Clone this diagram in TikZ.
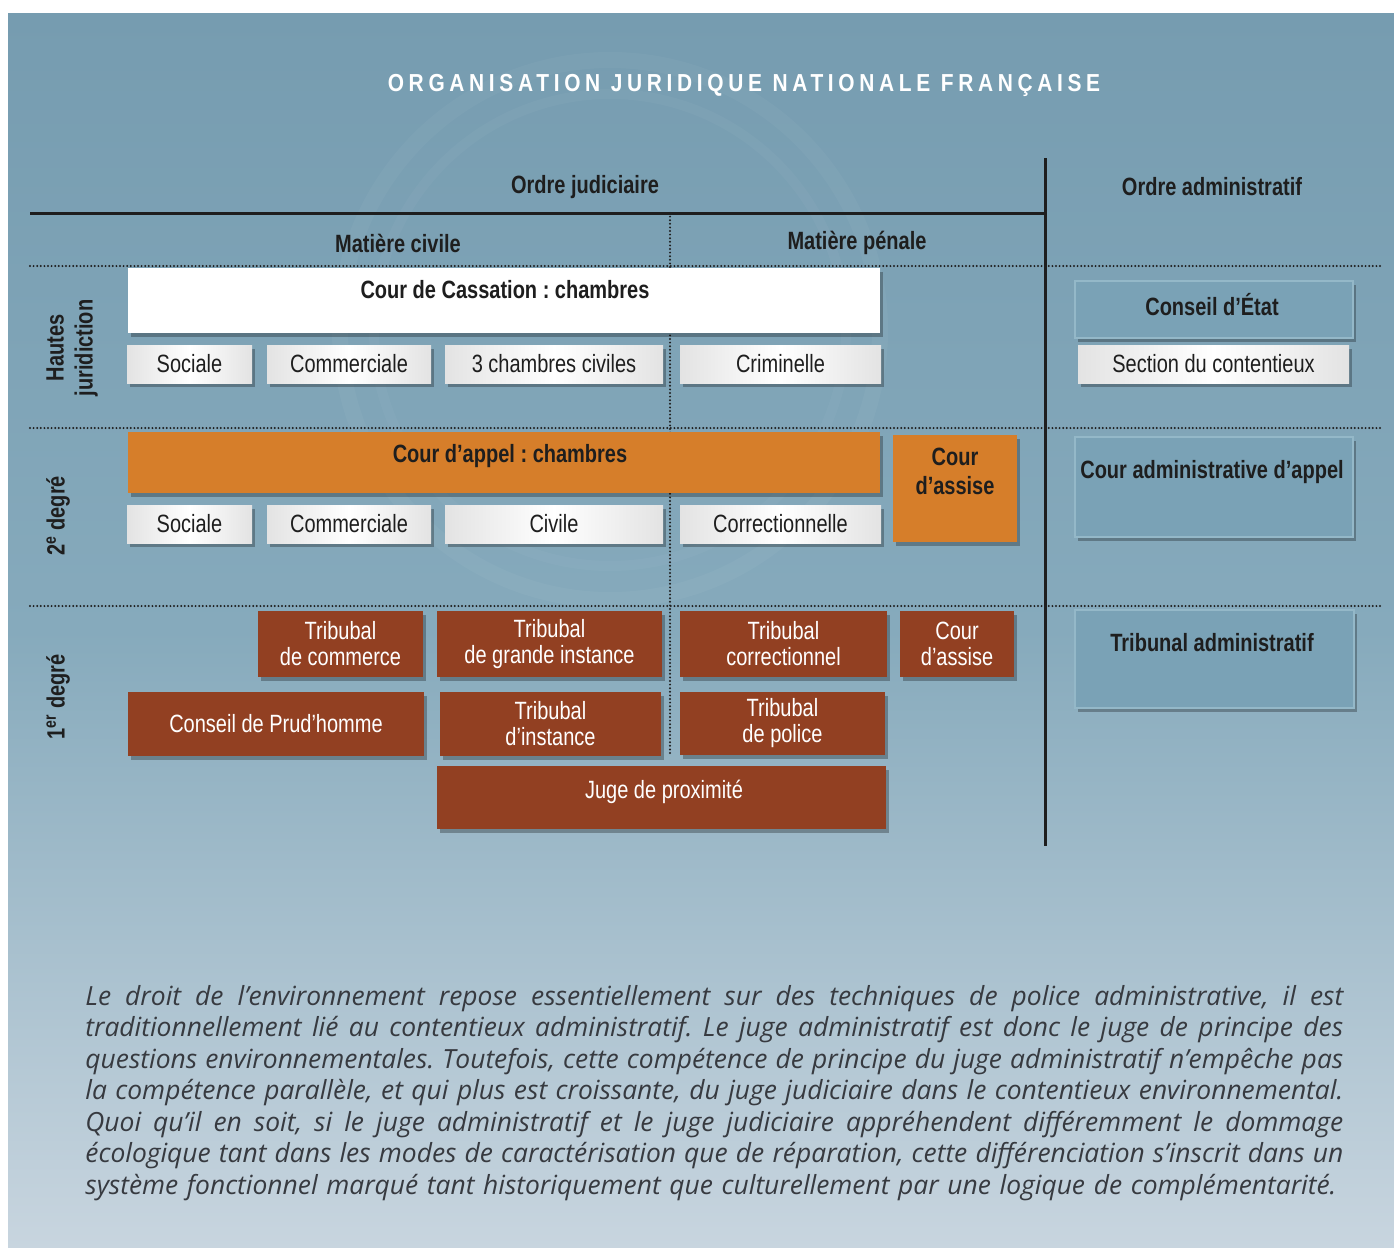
\documentclass[tikz,border=0pt]{standalone}
\usepackage{fontspec}
\setmainfont{Liberation Sans}
\newfontfamily\cnd[FakeStretch=0.8]{Liberation Sans}
\newfontfamily\ttl[FakeStretch=0.85,LetterSpace=19]{Liberation Sans}
\newfontfamily\prs{Open Sans}
\frenchspacing
\usetikzlibrary{shadows}
\definecolor{bgtop}{RGB}{118,156,176}
\definecolor{bgmid}{RGB}{134,170,188}
\definecolor{bgbot}{RGB}{200,213,223}
\definecolor{ink}{RGB}{30,30,30}
\definecolor{orng}{RGB}{214,126,42}
\definecolor{brwn}{RGB}{146,64,34}
\definecolor{bluebox}{RGB}{122,162,182}
\definecolor{blueedge}{RGB}{148,184,200}
\definecolor{prose}{RGB}{55,58,64}
\newcommand\mkbox[7]{%
  \node[#1, minimum width={(#5-#3)*0.5pt}, minimum height={(#6-#4)*0.5pt}] (#2) at ({(#3+#5)/2},{(#4+#6)/2}) {#7};}
\tikzset{
  shd/.style={drop shadow={opacity=0.28,shadow xshift=1.5pt,shadow yshift=-2pt,fill=black}},
  basebox/.style={inner sep=0pt, outer sep=0pt, align=center, text=ink,
    font=\cnd\fontsize{12.5}{14.5}\selectfont},
  plainw/.style={basebox, fill=white, shd},
  wbox/.style={basebox, left color=gray!22, right color=gray!22, middle color=white, shd},
  obox/.style={basebox, fill=orng, shd},
  rbox/.style={basebox, fill=brwn, text=white, shd,
    font=\cnd\fontsize{12.5}{13}\selectfont},
  bbox/.style={basebox, fill=bluebox, draw=blueedge, line width=0.8pt, shd},
  hdr/.style={inner sep=0pt, align=center, text=ink,
    font=\cnd\bfseries\fontsize{12.5}{14.5}\selectfont},
  rule/.style={draw=ink, line width=1.5pt},
  dots/.style={draw=ink, line width=1.1pt, line cap=round, dash pattern=on 0pt off 1.8pt},
  prosel/.style={inner sep=0pt, anchor=base west, text=prose,
    font=\prs\itshape\fontsize{13.2}{15}\selectfont}
}
\begin{document}
\begin{tikzpicture}[x=0.5pt,y=-0.5pt]
\useasboundingbox (0,0) rectangle (1394,1248);
\fill[white] (0,0) rectangle (1394,1248);
\shade[top color=bgtop, bottom color=bgbot, middle color=bgmid] (8,13) rectangle (1394,1248);
% faint emblem
\draw[white, opacity=0.035, line width=8pt] (610,330) circle[radius=135pt];
\draw[white, opacity=0.03, line width=5pt] (610,330) circle[radius=118pt];

% title
\node[text=white, font=\ttl\bfseries\fontsize{12.3}{14}\selectfont] (title) at (744,85) {ORGANISATION JURIDIQUE NATIONALE FRANÇAISE};

% headers
\node[hdr] (oj) at (585,187) {Ordre judiciaire};
\node[hdr] (oa) at (1212,187) {Ordre administratif};
\node[hdr] (mc) at (398,243) {Matière civile};
\node[hdr] (mp) at (857,243) {Matière pénale};

% rules
\coordinate (h0a) at (30,213); \coordinate (h0b) at (1045,213);
\coordinate (v0a) at (1045,158); \coordinate (v0b) at (1045,846);
\coordinate (d1a) at (30,266); \coordinate (d1b) at (1380,266);
\coordinate (d2a) at (30,428); \coordinate (d2b) at (1380,428);
\coordinate (d3a) at (30,606); \coordinate (d3b) at (1380,606);
\coordinate (dva) at (670,213); \coordinate (dvb) at (670,755);
\draw[dots] (d1a) -- (d1b);
\draw[dots] (d2a) -- (d2b);
\draw[dots] (d3a) -- (d3b);
\draw[dots] (dva) -- (dvb);
\draw[rule] (h0a) -- (h0b);
\draw[rule] (v0a) -- (v0b);

% row labels
\node[hdr, rotate=90] (lhj) at (72,348) {Hautes\\juridiction};
\node[hdr, rotate=90] (l2) at (58,516) {2\textsuperscript{e} degré};
\node[hdr, rotate=90] (l1) at (58,697) {1\textsuperscript{er} degré};

% Hautes juridiction
\mkbox{plainw}{cass}{128}{268}{880}{333}{}
\node[hdr] (casst) at (505,290) {Cour de Cassation : chambres};
\mkbox{wbox}{cs1}{127}{345}{252}{383}{Sociale}
\mkbox{wbox}{cs2}{267}{345}{431}{383}{Commerciale}
\mkbox{wbox}{cs3}{445}{345}{663}{383}{3 chambres civiles}
\mkbox{wbox}{cs4}{680}{345}{881}{383}{Criminelle}
\mkbox{bbox}{ce}{1075}{281}{1353}{338}{}
\node[hdr] (cet) at (1212,305) {Conseil d’État};
\mkbox{wbox}{sc}{1078}{345}{1349}{383}{Section du contentieux}

% 2e degre
\mkbox{obox}{ca}{128}{432}{880}{493}{}
\node[hdr] (cat) at (510,456) {Cour d’appel : chambres};
\mkbox{wbox}{a1}{127}{505}{252}{543}{Sociale}
\mkbox{wbox}{a2}{267}{505}{431}{543}{Commerciale}
\mkbox{wbox}{a3}{445}{505}{663}{543}{Civile}
\mkbox{wbox}{a4}{680}{505}{881}{543}{Correctionnelle}
\mkbox{obox}{cas}{893}{435}{1017}{542}{}
\node[hdr] (cast) at (955,471) {Cour\\d’assise};
\mkbox{bbox}{caa}{1075}{437}{1353}{537}{}
\node[hdr] (caat) at (1212,472) {Cour administrative d’appel};

% 1er degre
\mkbox{rbox}{t1}{258}{611}{423}{677}{Tribubal\\de commerce}
\mkbox{rbox}{t2}{437}{611}{662}{677}{Tribubal\\de grande instance}
\mkbox{rbox}{t3}{680}{611}{887}{677}{Tribubal\\correctionnel}
\mkbox{rbox}{t4}{900}{611}{1014}{677}{Cour\\d’assise}
\mkbox{bbox}{ta}{1075}{610}{1354}{708}{}
\node[hdr] (tat) at (1212,643) {Tribunal administratif};
\mkbox{rbox}{p1}{128}{692}{424}{756}{Conseil de Prud’homme}
\mkbox{rbox}{p2}{440}{692}{661}{756}{Tribubal\\d’instance}
\mkbox{rbox}{p3}{680}{692}{885}{755}{Tribubal\\de police}
\mkbox{rbox}{jp}{437}{766}{886}{829}{}
\node[hdr, font=\cnd\fontsize{12.5}{13}\selectfont, text=white] (jpt) at (664,792) {Juge de proximité};

% paragraph
\node[prosel] (q1) at (85,1005) {\makebox[629pt][s]{Le droit de l’environnement repose essentiellement sur des techniques de police administrative, il est}};
\node[prosel] (q2) at (85,1036.5) {\makebox[629pt][s]{traditionnellement lié au contentieux administratif. Le juge administratif est donc le juge de principe des}};
\node[prosel] (q3) at (85,1068) {\makebox[629pt][s]{questions environnementales. Toutefois, cette compétence de principe du juge administratif n’empêche pas}};
\node[prosel] (q4) at (85,1099.5) {\makebox[629pt][s]{la compétence parallèle, et qui plus est croissante, du juge judiciaire dans le contentieux environnemental.}};
\node[prosel] (q5) at (85,1131) {\makebox[629pt][s]{Quoi qu’il en soit, si le juge administratif et le juge judiciaire appréhendent différemment le dommage}};
\node[prosel] (q6) at (85,1162.5) {\makebox[629pt][s]{écologique tant dans les modes de caractérisation que de réparation, cette différenciation s’inscrit dans un}};
\node[prosel] (q7) at (85,1194) {\makebox[625.5pt][s]{système fonctionnel marqué tant historiquement que culturellement par une logique de complémentarité.}};
\end{tikzpicture}
\end{document}
